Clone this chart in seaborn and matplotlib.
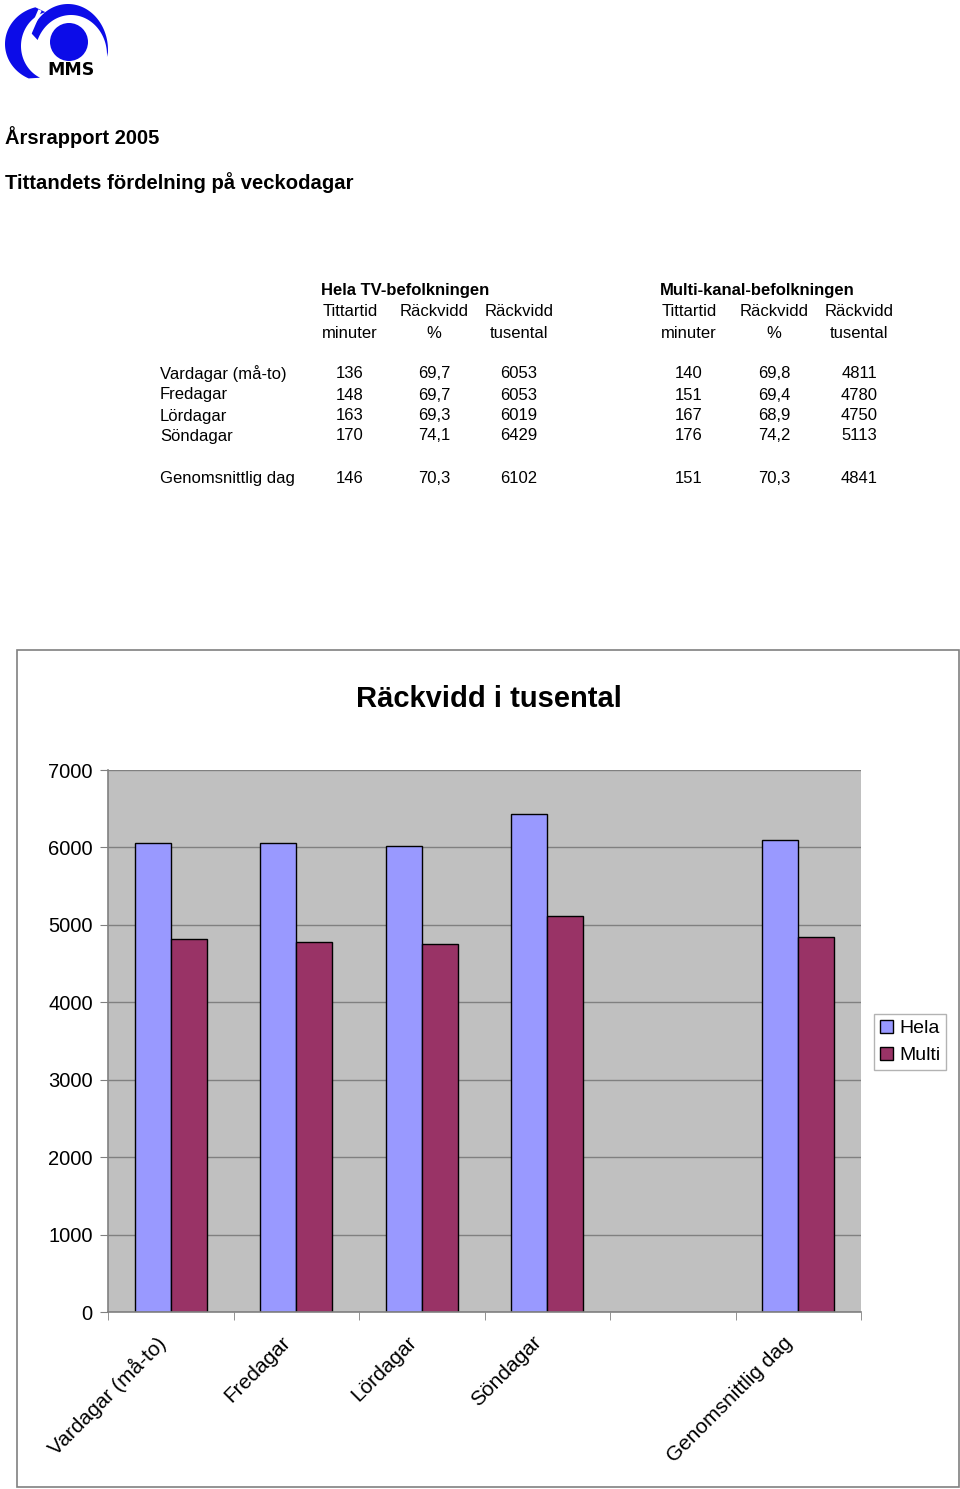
import numpy as np
import pandas as pd
import matplotlib
matplotlib.use("Agg")
import matplotlib.pyplot as plt
from matplotlib.patches import Polygon, Circle, Rectangle
from matplotlib.transforms import ScaledTranslation
import seaborn as sns

# ---------------- data ----------------
categories = ["Vardagar (må-to)", "Fredagar", "Lördagar", "Söndagar", " ", "Genomsnittlig dag"]
hela_tusental = [6053, 6053, 6019, 6429, np.nan, 6102]
multi_tusental = [4811, 4780, 4750, 5113, np.nan, 4841]
series_names = ["Hela", "Multi"]

table_rows = ["Vardagar (må-to)", "Fredagar", "Lördagar", "Söndagar", "Genomsnittlig dag"]
hela_minuter = ["136", "148", "163", "170", "146"]
hela_procent = ["69,7", "69,7", "69,3", "74,1", "70,3"]
hela_tusen = ["6053", "6053", "6019", "6429", "6102"]
multi_minuter = ["140", "151", "167", "176", "151"]
multi_procent = ["69,8", "69,4", "68,9", "74,2", "70,3"]
multi_tusen = ["4811", "4780", "4750", "5113", "4841"]
col_head1 = ["Tittartid", "Räckvidd", "Räckvidd"]
col_head2 = ["minuter", "%", "tusental"]
y_ticks = [0, 1000, 2000, 3000, 4000, 5000, 6000, 7000]

# ---------------- style ----------------
sns.set_style("white")
plt.rcParams["font.family"] = ["Liberation Sans", "DejaVu Sans"]
plt.rcParams["text.color"] = "black"
plt.rcParams["xtick.color"] = "black"
plt.rcParams["ytick.color"] = "black"
plt.rcParams["xtick.labelcolor"] = "black"
plt.rcParams["ytick.labelcolor"] = "black"

W, H = 960, 1489
fig = plt.figure(figsize=(W / 100, H / 100), dpi=100)

def fx(px):
    return px / W

def fy(py):
    return 1 - py / H

# ---------------- logo ----------------
blue = "#0C0CE8"
lax = fig.add_axes([0, fy(90), fx(130), 90 / H])
lax.set_xlim(0, 130)
lax.set_ylim(90, 0)
lax.axis("off")

def arc_pts(cx, cy, rx, ry, t0, t1, n=80):
    t = np.radians(np.linspace(t0, t1, n))
    return np.column_stack([cx + rx * np.cos(t), cy - ry * np.sin(t)])

# top arc
outer = arc_pts(68, 50, 40, 46, -3, 158)
inner = arc_pts(71, 55, 36, 40, 158, -3)
lax.add_patch(Polygon(np.vstack([outer, inner]), closed=True, color=blue, lw=0))
# left crescent
outer2 = arc_pts(46, 44, 41, 38, 105, 245)
inner2 = arc_pts(54, 46, 33, 35, 245, 105)
lax.add_patch(Polygon(np.vstack([outer2, inner2]), closed=True, color=blue, lw=0))
# white slit between pieces
lax.plot([27, 40], [40, 10], color="white", lw=2.5, solid_capstyle="butt")
lax.add_patch(Circle((69, 42), 19, color=blue, lw=0))
lax.text(71, 70, "MMS", ha="center", va="center", fontsize=12.5, fontweight="bold",
         color="black", family=["DejaVu Sans"])

# ---------------- header text ----------------
fig.text(fx(5), fy(137), "Årsrapport 2005", fontsize=14.5, fontweight="bold", va="center", ha="left")
fig.text(fx(5), fy(183), "Tittandets fördelning på veckodagar", fontsize=14.6, fontweight="bold",
         va="center", ha="left")

# ---------------- table ----------------
tfs = 12
fig.text(fx(405), fy(291), "Hela TV-befolkningen", fontsize=tfs, fontweight="bold", ha="center", va="center")
fig.text(fx(757), fy(291), "Multi-kanal-befolkningen", fontsize=tfs, fontweight="bold", ha="center", va="center")
hela_cols = [350, 434, 519]
multi_cols = [689, 774, 859]
for cols in (hela_cols, multi_cols):
    for cx, h1, h2 in zip(cols, col_head1, col_head2):
        fig.text(fx(cx), fy(311), h1, fontsize=tfs, ha="center", va="center")
        fig.text(fx(cx), fy(333), h2, fontsize=tfs, ha="center", va="center")
row_y = [374, 395, 416, 436, 478]
for i, ry in enumerate(row_y):
    fig.text(fx(160), fy(ry), table_rows[i], fontsize=tfs, ha="left", va="center")
    for cx, col in zip(hela_cols, [hela_minuter, hela_procent, hela_tusen]):
        fig.text(fx(cx), fy(ry), col[i], fontsize=tfs, ha="center", va="center")
    for cx, col in zip(multi_cols, [multi_minuter, multi_procent, multi_tusen]):
        fig.text(fx(cx), fy(ry), col[i], fontsize=tfs, ha="center", va="center")

# ---------------- chart box ----------------
fig.patches.append(Rectangle((fx(17), fy(1487)), fx(959) - fx(17), fy(650) - fy(1487),
                             transform=fig.transFigure, fill=False, edgecolor="#808080", lw=1.2))
fig.text(fx(489), fy(699), "Räckvidd i tusental", fontsize=21, fontweight="bold", ha="center", va="center")

# ---------------- bar chart ----------------
df = pd.DataFrame({
    "Kategori": categories * 2,
    "Serie": [series_names[0]] * len(categories) + [series_names[1]] * len(categories),
    "Tusental": hela_tusental + multi_tusental,
})

ax = fig.add_axes([fx(108), fy(1312), fx(861) - fx(108), fy(770) - fy(1312)])
ax.set_facecolor("#C0C0C0")
sns.barplot(data=df, x="Kategori", y="Tusental", hue="Serie", order=categories,
            hue_order=series_names, palette=["#9999FF", "#993366"], width=0.57,
            edgecolor="black", linewidth=1, saturation=1, errorbar=None, ax=ax)

ax.set_ylim(0, 7000)
ax.set_xlim(-0.5, len(categories) - 0.5)
ax.set_yticks(y_ticks)
ax.set_yticklabels([str(v) for v in y_ticks], fontsize=14.5)
ax.yaxis.grid(True, color="#808080", lw=1)
ax.set_axisbelow(True)
ax.set_xlabel("")
ax.set_ylabel("")
for s in ["top", "right"]:
    ax.spines[s].set_visible(False)
for s in ["left", "bottom"]:
    ax.spines[s].set_color("#808080")
    ax.spines[s].set_linewidth(1.2)
ax.tick_params(axis="y", length=6, color="#808080", pad=5, direction="out", left=True)
ax.set_xticks(range(len(categories)))
ax.set_xticklabels(categories, rotation=45, ha="right", rotation_mode="anchor", fontsize=15)
ax.tick_params(axis="x", which="major", length=0, pad=15)
ax.set_xticks(np.arange(-0.5, len(categories)), minor=True)
ax.tick_params(axis="x", which="minor", length=6, color="#808080", direction="out", bottom=True)
shift = ScaledTranslation(-11 / 72, 0, fig.dpi_scale_trans)
for lbl in ax.get_xticklabels():
    lbl.set_transform(lbl.get_transform() + shift)

handles, labels = ax.get_legend_handles_labels()
ax.legend(handles, labels, loc="center left", bbox_to_anchor=(fx(874), fy(1042)),
          bbox_transform=fig.transFigure, fontsize=14, frameon=True, fancybox=False,
          edgecolor="#A0A0A0", handlelength=0.7, handleheight=0.7, handletextpad=0.3,
          borderpad=0.3, labelspacing=0.5, borderaxespad=0)

fig.savefig("out.png", dpi=100, facecolor="white")
